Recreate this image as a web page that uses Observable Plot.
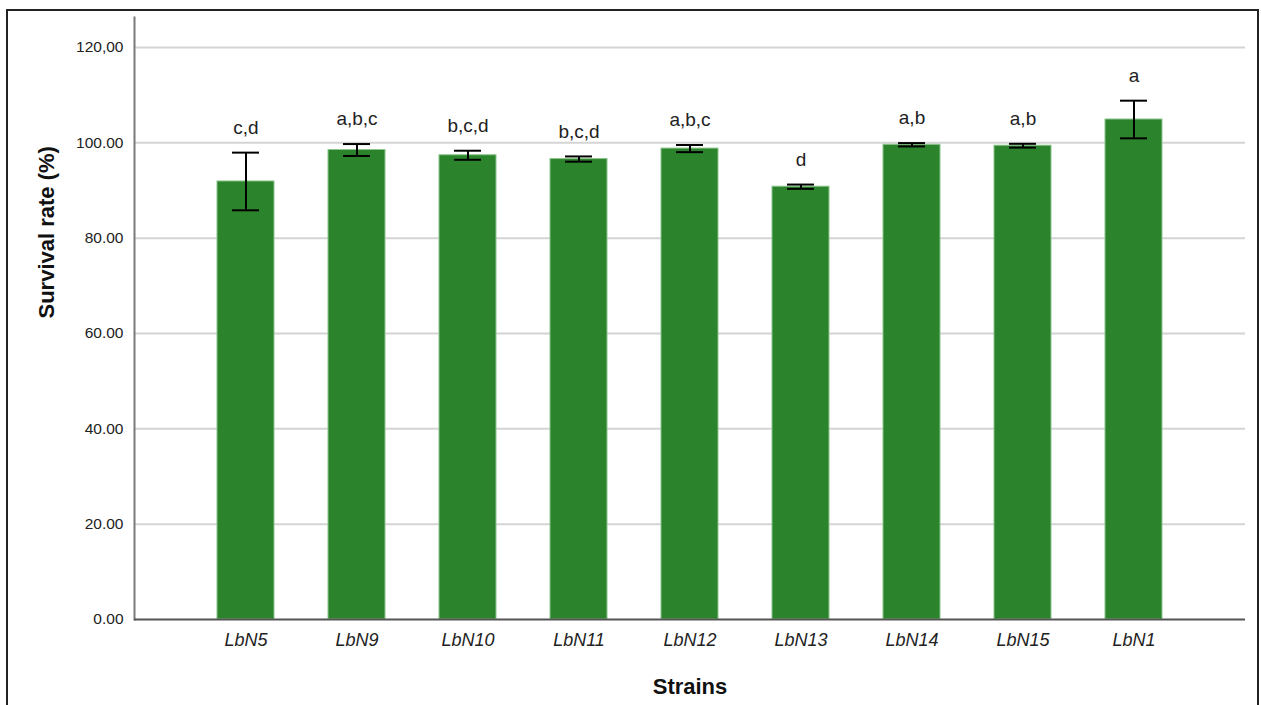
<!DOCTYPE html>
<html>
<head>
<meta charset="utf-8">
<script src="https://cdn.jsdelivr.net/npm/d3@7"></script>
<script src="https://cdn.jsdelivr.net/npm/@observablehq/plot@0.6"></script>
<style>
  html, body { margin: 0; padding: 0; background: #fff; }
  #wrap { position: relative; width: 1261px; height: 705px; overflow: hidden; }
  #border { position: absolute; left: 6px; top: 9px; width: 1249px; height: 720px;
            border: 2px solid #222; border-bottom: none; }
  #chart { position: absolute; left: 0; top: 0; }
</style>
</head>
<body>
<div id="wrap">
  <div id="border"></div>
  <div id="chart"></div>
</div>
<script>
// Survival rate per strain, mean ± error, with significance groups
const strains = ["LbN5", "LbN9", "LbN10", "LbN11", "LbN12", "LbN13", "LbN14", "LbN15", "LbN1"];
const means   = [91.9, 98.5, 97.4, 96.6, 98.8, 90.8, 99.6, 99.4, 104.9];
const errors  = [6.05, 1.25, 0.95, 0.55, 0.75, 0.45, 0.35, 0.4, 3.95];
const groups  = ["c,d", "a,b,c", "b,c,d", "b,c,d", "a,b,c", "d", "a,b", "a,b", "a"];
const yTicks      = [0, 20, 40, 60, 80, 100, 120];
const yTickLabels = ["0.00", "20.00", "40.00", "60.00", "80.00", "100.00", "120,00"];

const rows = strains.map((s, i) => ({
  strain: s, mean: means[i], lo: means[i] - errors[i], hi: means[i] + errors[i], group: groups[i]
}));

const font = "Arial, 'Liberation Sans', sans-serif";

const chart = Plot.plot({
  width: 1261,
  height: 705,
  marginLeft: 134,
  marginRight: 16,
  marginTop: 17,
  marginBottom: 86,
  style: { fontFamily: font, background: "transparent", color: "#222" },
  x: { domain: strains, paddingInner: 0.487, paddingOuter: 0.7435, align: 0.5, label: null },
  y: { domain: [0, 126.3], label: null },
  marks: [
    Plot.gridY(yTicks.filter(d => d > 0), { stroke: "#d4d4d4", strokeOpacity: 1, strokeWidth: 2 }),
    Plot.axisY({
      ticks: yTicks, tickSize: 0, tickPadding: 11,
      tickFormat: d => yTickLabels[yTicks.indexOf(d)],
      fontSize: 15.5, fill: "#222", label: null
    }),
    Plot.axisX({
      tickSize: 0, tickPadding: 14, fontSize: 18, fontStyle: "italic", fill: "#222", label: null
    }),
    Plot.barY(rows, { x: "strain", y: "mean", fill: "#2b842b", stroke: "#8cc48c", strokeWidth: 1 }),
    Plot.frame({ anchor: "left", stroke: "#7a7a7a", strokeWidth: 2 }),
    Plot.ruleY([0], { stroke: "#555", strokeWidth: 2 }),
    Plot.ruleX(rows, { x: "strain", y1: "lo", y2: "hi", stroke: "#000", strokeWidth: 2 }),
    Plot.tickY(rows, { x: "strain", y: "lo", stroke: "#000", strokeWidth: 2, insetLeft: 15, insetRight: 15 }),
    Plot.tickY(rows, { x: "strain", y: "hi", stroke: "#000", strokeWidth: 2, insetLeft: 15, insetRight: 15 }),
    Plot.text(rows, { x: "strain", y: "hi", text: "group", dy: -25, fontSize: 19, fill: "#222" }),
    Plot.text(["Survival rate (%)"], {
      frameAnchor: "left", dx: -88, rotate: -90, fontSize: 22, fontWeight: "bold", fill: "#111"
    }),
    Plot.text(["Strains"], {
      frameAnchor: "bottom", dy: 74, fontSize: 22, fontWeight: "bold", fill: "#111"
    })
  ]
});

document.getElementById("chart").appendChild(chart);
</script>
</body>
</html>
